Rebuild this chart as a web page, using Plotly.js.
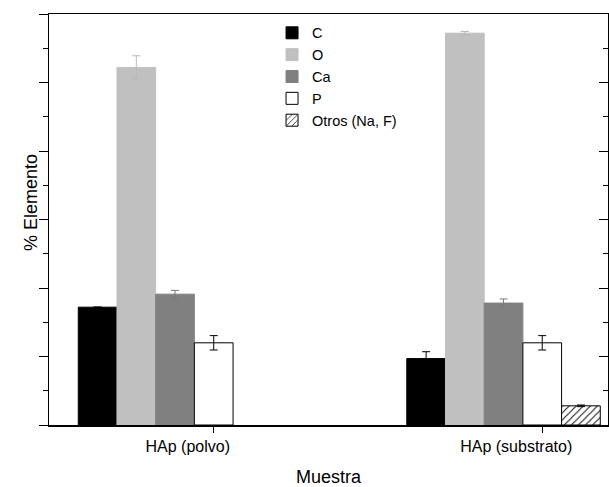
<!DOCTYPE html>
<html>
<head>
<meta charset="utf-8">
<script src="https://cdn.plot.ly/plotly-3.0.1.min.js"></script>
<style>html,body{margin:0;padding:0;background:#fff;}#chart{width:609px;height:487px;}</style>
</head>
<body>
<div id="chart"></div>
<script>
const categories = ["HAp (polvo)", "HAp (substrato)"];
const seriesNames = ["C", "O", "Ca", "P", "Otros (Na, F)"];
const valC = [17.2, 9.7];
const valO = [52.2, 57.2];
const valCa = [19.1, 17.8];
const valP = [12.0, 12.0];
const valOtros = [null, 2.8];
const errC = [null, 1.0];
const errO = [1.7, 0.25];
const errCa = [0.55, 0.6];
const errP = [1.05, 1.05];
const errOtros = [null, 0.12];
const yTitle = "% Elemento";
const xTitle = "Muestra";

const BARGAP = 0.411;
const xIdx = categories.map((c, i) => i);
const barUnit = (1 - BARGAP) / seriesNames.length;

const styles = [
  {fill: "#000000", line: "#000000", err: "#000000"},
  {fill: "#c0c0c0", line: "#c0c0c0", err: "#b8b8b8"},
  {fill: "#808080", line: "#808080", err: "#7a7a7a"},
  {fill: "#ffffff", line: "#000000", err: "#000000"},
  {fill: "#ffffff", line: "#000000", err: "#000000", pattern: true}
];
const vals = [valC, valO, valCa, valP, valOtros];
const errs = [errC, errO, errCa, errP, errOtros];

const traces = seriesNames.map((name, k) => {
  const st = styles[k];
  const marker = {color: st.fill, line: {color: st.line, width: 1}};
  if (st.pattern) {
    marker.pattern = {shape: "/", fgcolor: "#000000", bgcolor: "#ffffff", size: 5, solidity: 0.18};
  }
  return {
    type: "bar",
    name: name,
    x: xIdx,
    y: vals[k],
    marker: marker,
    error_y: {type: "data", array: errs[k], visible: true, color: st.err, thickness: 1, width: 4},
    hoverinfo: "skip"
  };
});
// empty helper trace so the right-hand (mirrored, inward-tick) axis is drawn
traces.push({type: "scatter", x: [], y: [], yaxis: "y2", showlegend: false, hoverinfo: "skip"});

const fam = "Liberation Sans, Arial, sans-serif";
const font = {family: fam, color: "#000", size: 16};

const layout = {
  width: 609, height: 487,
  margin: {l: 49, r: 1, t: 14, b: 62},
  paper_bgcolor: "#fff", plot_bgcolor: "#fff",
  font: font,
  barmode: "group",
  bargap: BARGAP,
  bargroupgap: 0,
  showlegend: true,
  legend: {
    x: 0.399, y: 0.993, xanchor: "left", yanchor: "top",
    bgcolor: "rgba(0,0,0,0)", borderwidth: 0,
    font: {family: fam, size: 14.5, color: "#000"},
    tracegroupgap: 0, itemwidth: 30
  },
  xaxis: {
    range: [-0.3836, 1.318],
    tickmode: "array",
    tickvals: xIdx.map(i => i + barUnit),
    ticktext: categories,
    ticklabelshift: -26,
    ticks: "outside", ticklen: 6, tickwidth: 1, tickcolor: "#000",
    showline: true, linecolor: "#000", linewidth: 1.5,
    mirror: true, showgrid: false, zeroline: false,
    tickfont: {family: fam, size: 16, color: "#000"},
    title: {text: xTitle, font: {family: fam, size: 18, color: "#000"}, standoff: 18}
  },
  yaxis: {
    range: [0, 60],
    dtick: 10,
    ticks: "outside", ticklen: 9, tickwidth: 1, tickcolor: "#000",
    minor: {dtick: 5, ticks: "outside", ticklen: 5, tickwidth: 1, tickcolor: "#000", showgrid: false},
    showticklabels: false,
    showline: true, linecolor: "#000", linewidth: 1.5,
    mirror: true, showgrid: false, zeroline: false
  },
  yaxis2: {
    overlaying: "y", side: "right", matches: "y",
    range: [0, 60], dtick: 10,
    ticks: "inside", ticklen: 9, tickwidth: 1, tickcolor: "#000",
    minor: {dtick: 5, ticks: "inside", ticklen: 5, tickwidth: 1, tickcolor: "#000", showgrid: false},
    showticklabels: false, showline: false, showgrid: false, zeroline: false
  },
  annotations: [{
    text: yTitle, textangle: -90, showarrow: false,
    xref: "paper", yref: "paper", x: -0.0322, y: 0.54,
    xanchor: "center", yanchor: "middle",
    font: {family: fam, size: 18, color: "#000"}
  }]
};

Plotly.newPlot("chart", traces, layout, {displayModeBar: false, staticPlot: true});
</script>
</body>
</html>
